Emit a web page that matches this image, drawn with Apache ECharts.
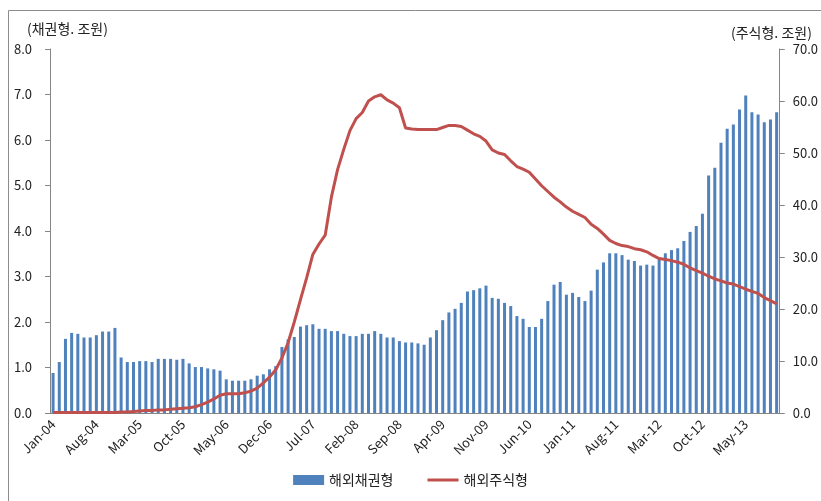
<!DOCTYPE html>
<html>
<head>
<meta charset="utf-8">
<script src="https://cdn.jsdelivr.net/npm/echarts@6/dist/echarts.min.js"></script>
<style>
  html, body { margin: 0; padding: 0; background: #fff; }
  #chart { width: 821px; height: 501px; }
</style>
</head>
<body>
<div id="chart"></div>
<script>
// 월별 카테고리 (Jan-04 ~ Oct-13)
var monthNames = ['Jan','Feb','Mar','Apr','May','Jun','Jul','Aug','Sep','Oct','Nov','Dec'];
var months = [];
for (var y = 4; y <= 13; y++) {
  for (var m = 0; m < 12; m++) {
    if (y === 13 && m > 9) break;
    months.push(monthNames[m] + '-' + (y < 10 ? '0' + y : y));
  }
}

// 해외채권형 (조원, 왼쪽 축)
var bondFund = [
  0.88,1.12,1.63,1.76,1.74,1.66,1.66,1.71,1.79,1.79,
  1.87,1.22,1.12,1.12,1.14,1.14,1.12,1.19,1.19,1.19,
  1.17,1.19,1.09,1.01,1.01,0.98,0.96,0.93,0.74,0.71,
  0.71,0.71,0.74,0.82,0.85,0.96,1.03,1.45,1.62,1.67,
  1.90,1.93,1.95,1.85,1.85,1.80,1.80,1.74,1.69,1.69,
  1.74,1.74,1.80,1.74,1.66,1.66,1.58,1.55,1.55,1.53,
  1.50,1.66,1.82,2.04,2.21,2.29,2.42,2.67,2.70,2.74,
  2.80,2.53,2.51,2.42,2.35,2.13,2.07,1.89,1.89,2.07,
  2.46,2.82,2.88,2.60,2.64,2.55,2.46,2.69,3.15,3.31,
  3.51,3.51,3.47,3.37,3.34,3.24,3.26,3.24,3.37,3.51,
  3.58,3.62,3.78,3.98,4.11,4.38,5.22,5.39,5.94,6.25,
  6.34,6.67,6.98,6.61,6.56,6.39,6.45,6.61
];

// 해외주식형 (조원, 오른쪽 축)
var equityFund = [
  0.1,0.1,0.1,0.1,0.1,0.1,0.1,0.1,0.1,0.1,
  0.1,0.2,0.2,0.3,0.4,0.5,0.5,0.6,0.6,0.7,
  0.8,0.9,1.0,1.2,1.6,2.1,2.7,3.4,3.7,3.7,
  3.7,3.9,4.2,4.8,5.8,6.9,8.3,10.6,13.5,17.5,
  21.8,26.0,30.5,32.5,34.2,41.5,46.8,50.7,54.3,56.6,
  57.8,60.0,60.8,61.2,60.2,59.6,58.7,54.8,54.6,54.5,
  54.5,54.5,54.5,54.9,55.3,55.3,55.1,54.4,53.7,53.2,
  52.3,50.6,50.0,49.7,48.5,47.4,46.9,46.3,45.0,43.7,
  42.6,41.5,40.6,39.6,38.8,38.2,37.6,36.3,35.5,34.4,
  33.2,32.6,32.2,32.0,31.6,31.4,31.0,30.3,29.7,29.5,
  29.3,29.0,28.6,27.9,27.4,26.9,26.3,25.8,25.4,25.0,
  24.8,24.3,23.8,23.4,23.0,22.2,21.6,21.0
];

var font = '"Noto Sans CJK KR", "Noto Sans", sans-serif';
var chart = echarts.init(document.getElementById('chart'));

var option = {
  animation: false,
  textStyle: { fontFamily: font },
  grid: { left: 50, right: 38, top: 49, bottom: 88 },
  graphic: [
    { type: 'rect', shape: { x: 8.5, y: 10.5, width: 900, height: 600 },
      style: { fill: 'none', stroke: '#8c8c8c', lineWidth: 1 } },
    { type: 'text', left: 27, top: 22,
      style: { text: '(채권형. 조원)', fontSize: 14, fill: '#222', fontFamily: font } },
    { type: 'text', left: 731, top: 26,
      style: { text: '(주식형. 조원)', fontSize: 14, fill: '#222', fontFamily: font } }
  ],
  legend: {
    bottom: 9,
    left: 'center',
    itemGap: 34,
    itemWidth: 31,
    itemHeight: 10,
    textStyle: { fontSize: 14, color: '#222', fontFamily: font },
    data: [
      { name: '해외채권형', icon: 'rect' },
      { name: '해외주식형', icon: 'path://M0,0M0,3.5H31V6.5H0ZM31,10' }
    ]
  },
  xAxis: {
    type: 'category',
    data: months,
    boundaryGap: true,
    axisLine: { lineStyle: { color: '#868686' } },
    axisTick: { interval: 6, length: 5, lineStyle: { color: '#868686' } },
    axisLabel: { interval: 6, rotate: 45, fontSize: 13, color: '#222', margin: 9 }
  },
  yAxis: [
    {
      type: 'value', min: 0, max: 8, interval: 1, position: 'left',
      axisLine: { show: true, lineStyle: { color: '#868686' } },
      axisTick: { show: true, inside: false, length: 5, lineStyle: { color: '#868686' } },
      splitLine: { show: false },
      axisLabel: { fontSize: 13, color: '#222', margin: 18,
        formatter: function (v) { return v.toFixed(1); } }
    },
    {
      type: 'value', min: 0, max: 70, interval: 10, position: 'right',
      axisLine: { show: true, lineStyle: { color: '#868686' } },
      axisTick: { show: true, inside: false, length: 5, lineStyle: { color: '#868686' } },
      splitLine: { show: false },
      axisLabel: { fontSize: 13, color: '#222', margin: 13,
        formatter: function (v) { return v.toFixed(1); } }
    }
  ],
  series: [
    {
      name: '해외채권형',
      type: 'bar',
      yAxisIndex: 0,
      data: bondFund,
      barWidth: 3,
      itemStyle: { color: '#4F81BD' }
    },
    {
      name: '해외주식형',
      type: 'line',
      yAxisIndex: 1,
      data: equityFund,
      symbol: 'none',
      lineStyle: { color: '#C0504D', width: 3 },
      itemStyle: { color: '#C0504D' }
    }
  ]
};

chart.setOption(option);
</script>
</body>
</html>
